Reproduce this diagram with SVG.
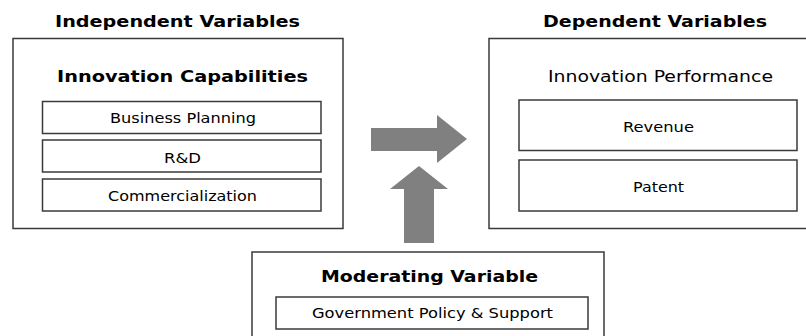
<svg xmlns="http://www.w3.org/2000/svg" width="806" height="336" viewBox="0 0 806 336">
<style>
.box{fill:#fff;stroke:#3a3a3a;stroke-width:1.5}
.t{font-family:"DejaVu Sans",Verdana,sans-serif;fill:#000;text-anchor:middle}
.h{font-weight:bold;font-size:16px}
.n{font-size:14px}
.arr{fill:#808080}
</style>
<rect width="806" height="336" fill="#fff"/>
<g id="independent">
<text class="t h" x="177.5" y="27" textLength="245" lengthAdjust="spacingAndGlyphs">Independent Variables</text>
<rect class="box" x="13" y="38.5" width="330" height="190"/>
<text class="t h" x="182.5" y="81.5" textLength="251" lengthAdjust="spacingAndGlyphs">Innovation Capabilities</text>
<g id="business-planning"><rect class="box" x="42.5" y="101.5" width="278.5" height="32"/><text class="t n" x="183" y="123" textLength="146" lengthAdjust="spacingAndGlyphs">Business Planning</text></g>
<g id="rd"><rect class="box" x="42.5" y="140" width="278.5" height="32"/><text class="t n" x="182.5" y="163" textLength="37" lengthAdjust="spacingAndGlyphs">R&amp;D</text></g>
<g id="commercialization"><rect class="box" x="42.5" y="179" width="278.5" height="32"/><text class="t n" x="182.5" y="201" textLength="149" lengthAdjust="spacingAndGlyphs">Commercialization</text></g>
</g>
<g id="dependent">
<text class="t h" x="655" y="27" textLength="224" lengthAdjust="spacingAndGlyphs">Dependent Variables</text>
<rect class="box" x="489" y="38.5" width="330" height="190"/>
<text class="t n" x="660.5" y="82" style="font-size:15px" textLength="225" lengthAdjust="spacingAndGlyphs">Innovation Performance</text>
<g id="revenue"><rect class="box" x="519" y="100" width="278" height="50.5"/><text class="t n" x="658.5" y="131.5" textLength="71" lengthAdjust="spacingAndGlyphs">Revenue</text></g>
<g id="patent"><rect class="box" x="519" y="160" width="278" height="51"/><text class="t n" x="658.5" y="191.5" textLength="51" lengthAdjust="spacingAndGlyphs">Patent</text></g>
</g>
<g id="moderating">
<rect class="box" x="252" y="252" width="352" height="100"/>
<text class="t h" x="429.5" y="281.7" textLength="217" lengthAdjust="spacingAndGlyphs">Moderating Variable</text>
<g id="government"><rect class="box" x="276" y="297" width="312" height="32"/><text class="t n" x="432.5" y="318" textLength="241" lengthAdjust="spacingAndGlyphs">Government Policy &amp; Support</text></g>
</g>
<g id="connectors">
<polygon class="arr" points="371,128 437,128 437,115 467,139 437,163 437,151 371,151"/>
<polygon class="arr" points="404,243 404,189 390,189 419,166 448,189 434,189 434,243"/>
</g>
</svg>
